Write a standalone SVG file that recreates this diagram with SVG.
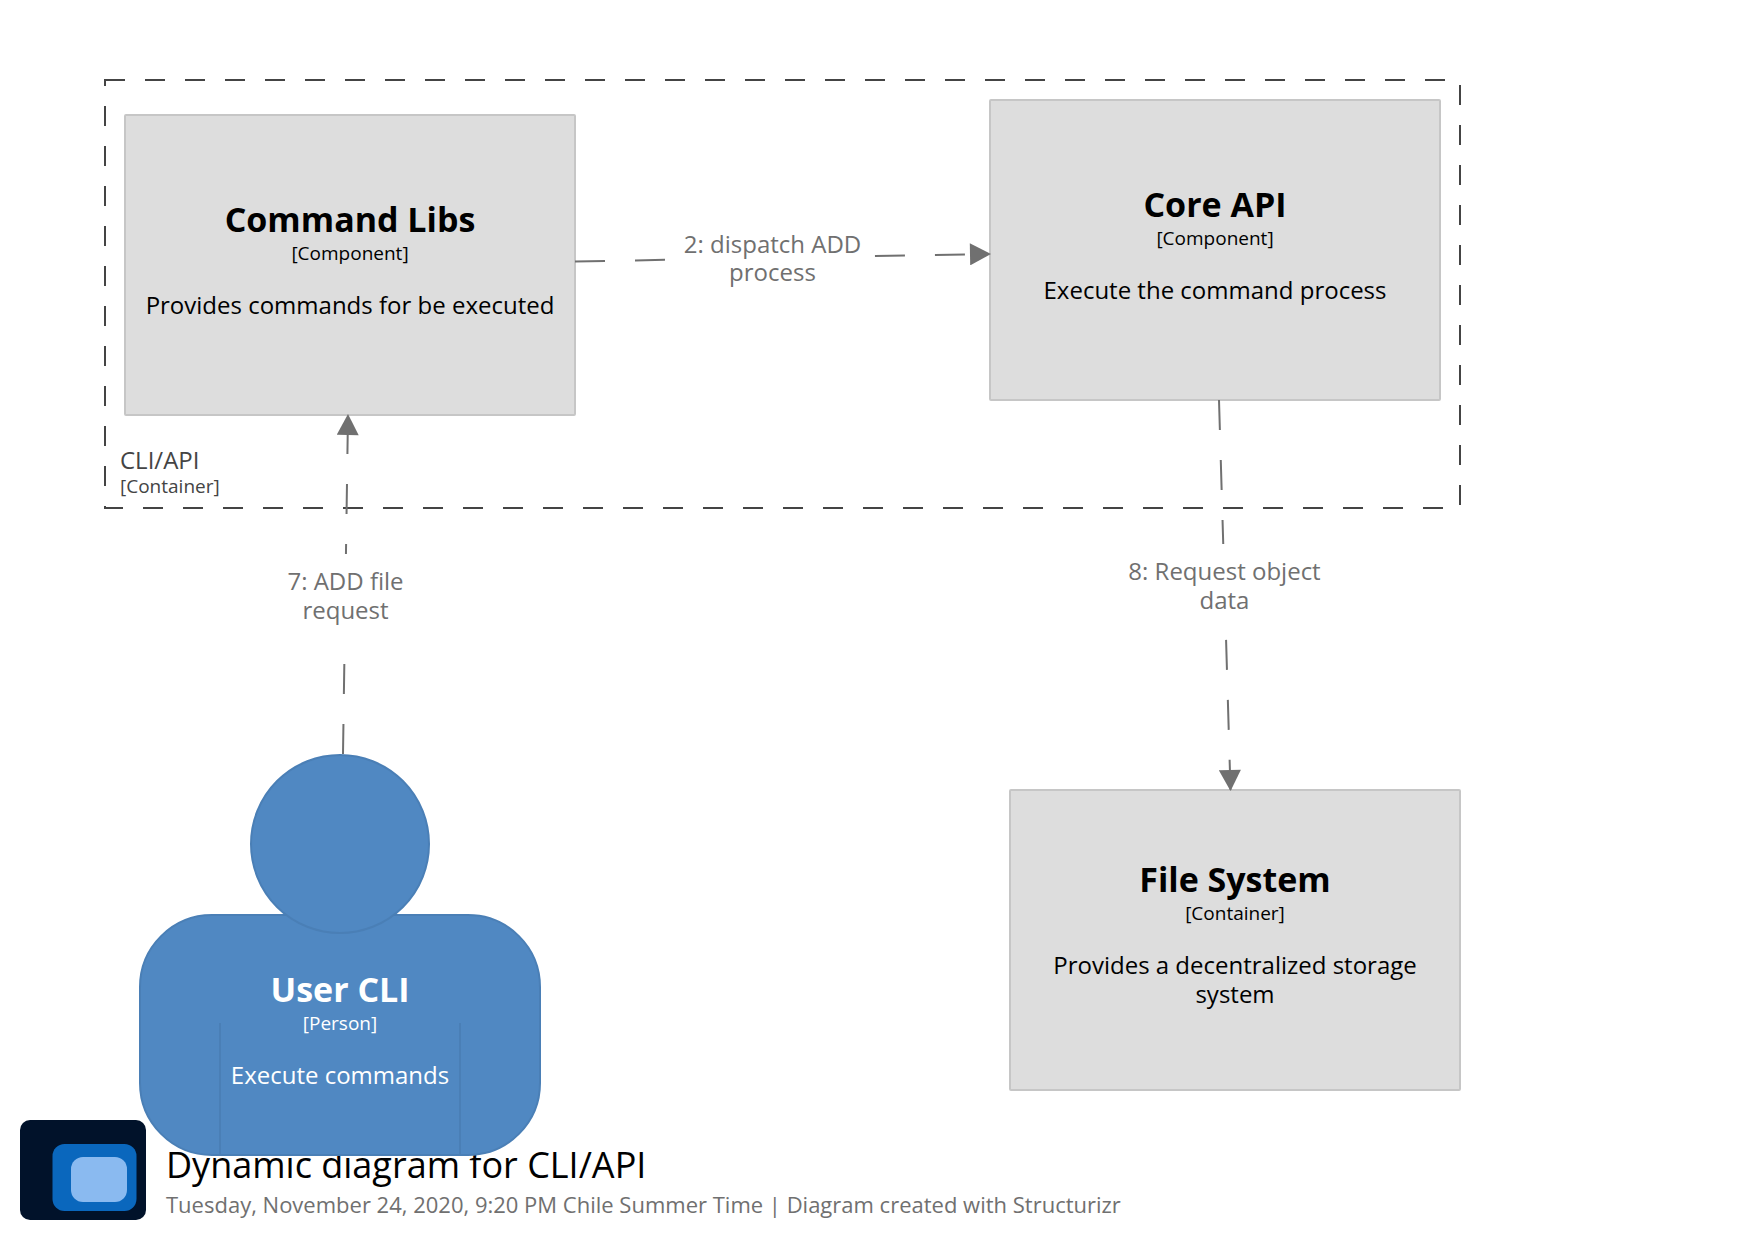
<svg xmlns="http://www.w3.org/2000/svg" width="1748" height="1240" viewBox="0 0 1748 1240">
<style>
text{font-family:"Open Sans","Noto Sans","Liberation Sans",sans-serif}
.box{fill:#dddddd;stroke:#c6c6c6;stroke-width:2}
.n{font-size:34px;font-weight:700;text-anchor:middle;fill:#000}
.m{font-size:19px;text-anchor:middle;fill:#000}
.d{font-size:24px;text-anchor:middle;fill:#000}
.w{fill:#fff}
.l{font-size:24px;text-anchor:middle;fill:#707070}
.c{fill:none;stroke:#707070;stroke-width:2;stroke-dasharray:30 30}
.p{fill:#5088c2;stroke:#4a7fb6;stroke-width:2}
</style>
<defs>
<marker id="arrow" markerUnits="userSpaceOnUse" markerWidth="22" markerHeight="22" viewBox="0 0 21 22" refX="20" refY="11" orient="auto"><path d="M0 0L21 11L0 22Z" fill="#707070"/></marker>
</defs>
<rect width="1748" height="1240" fill="#fff"/>
<g id="boundary">
<rect x="105" y="80" width="1355" height="428" fill="none" stroke="#444" stroke-width="2" stroke-dasharray="20 20"/>
<text x="120" y="468.5" font-size="24" fill="#444">CLI/API</text>
<text x="120" y="492.5" font-size="19" fill="#444">[Container]</text>
</g>
<g id="title">
<text x="166" y="1178" font-size="36" fill="#000">Dynamic diagram for CLI/API</text>
<text x="166" y="1213" font-size="22" fill="#707070">Tuesday, November 24, 2020, 9:20 PM Chile Summer Time | Diagram created with Structurizr</text>
</g>
<g id="command-libs">
<rect class="box" x="125" y="115" width="450" height="300" rx="1"/>
<text class="n" x="350" y="231.5">Command Libs</text>
<text class="m" x="350" y="259.5">[Component]</text>
<text class="d" x="350" y="314">Provides commands for be executed</text>
</g>
<g id="core-api">
<rect class="box" x="990" y="100" width="450" height="300" rx="1"/>
<text class="n" x="1215" y="216.5">Core API</text>
<text class="m" x="1215" y="244.5">[Component]</text>
<text class="d" x="1215" y="299">Execute the command process</text>
</g>
<g id="file-system">
<rect class="box" x="1010" y="790" width="450" height="300" rx="1"/>
<text class="n" x="1235" y="891.5">File System</text>
<text class="m" x="1235" y="919.5">[Container]</text>
<text class="d" x="1235" y="974">Provides a decentralized storage</text>
<text class="d" x="1235" y="1003">system</text>
</g>
<g id="user-cli">
<rect class="p" x="140" y="915" width="400" height="240" rx="72" ry="72"/>
<circle class="p" cx="340" cy="844" r="89"/>
<line x1="220" y1="1023" x2="220" y2="1155" stroke="#4a7fb6" stroke-width="2"/>
<line x1="460" y1="1023" x2="460" y2="1155" stroke="#4a7fb6" stroke-width="2"/>
<text class="n w" x="340" y="1001.5">User CLI</text>
<text class="m w" x="340" y="1029.5">[Person]</text>
<text class="d w" x="340" y="1084">Execute commands</text>
</g>
<g id="logo">
<rect x="20" y="1120" width="126" height="100" rx="10" fill="#01122a"/>
<rect x="52.5" y="1144" width="84" height="67" rx="12" fill="#0a67bd"/>
<rect x="71" y="1157" width="56" height="45" rx="12" fill="#8abaf0"/>
</g>
<g id="connectors">
<path class="c" d="M575 261.5L990 254" marker-end="url(#arrow)"/>
<rect x="684" y="225" width="176" height="65" fill="#fff"/>
<text class="l" x="772.5" y="252.5">2: dispatch ADD</text>
<text class="l" x="772.5" y="280.5">process</text>
<path class="c" d="M343 754L348 415" marker-end="url(#arrow)"/>
<rect x="285" y="554" width="120" height="80" fill="#fff"/>
<text class="l" x="345.5" y="590">7: ADD file</text>
<text class="l" x="345.5" y="619">request</text>
<path class="c" d="M1219 400L1230.5 790" marker-end="url(#arrow)"/>
<rect x="1130" y="544" width="190" height="88" fill="#fff"/>
<text class="l" x="1224.5" y="580">8: Request object</text>
<text class="l" x="1224.5" y="609">data</text>
</g>
</svg>
